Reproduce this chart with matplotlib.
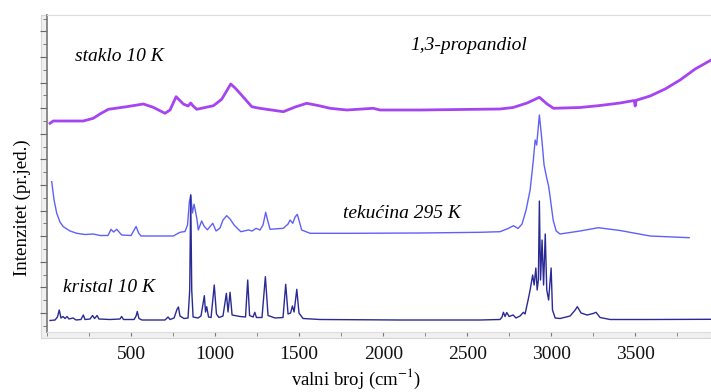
import matplotlib
matplotlib.use("Agg")
import matplotlib.pyplot as plt
from matplotlib.patches import Rectangle
from matplotlib.ticker import MultipleLocator

plt.rcParams['font.family'] = ['Liberation Serif', 'DejaVu Serif']
plt.rcParams['mathtext.fontset'] = 'stix'

# staklo 10 K (glass)
staklo_x = [18, 37, 216, 275, 315, 365, 474, 573, 632, 702, 732, 768, 811, 839, 855, 869,
            891, 990, 1039, 1065, 1093, 1119, 1148, 1218, 1255, 1307, 1406, 1476, 1545,
            1612, 1684, 1783, 1941, 1981, 2219, 2457, 2695, 2773, 2856, 2929, 2975, 3013,
            3171, 3290, 3409, 3493, 3499, 3505, 3588, 3677, 3766, 3856, 3951]
staklo_y = [208.7, 211, 211, 213.7, 218, 222.7, 225.3, 228, 224.7, 218.7, 222, 235.3, 228,
            226, 229, 226, 222.7, 226.3, 232.7, 240, 248, 244, 238.7, 225.3, 224, 222.7,
            220.3, 225, 228.7, 226.5, 223.7, 222, 223.7, 222, 222, 222.5, 223, 224.5, 229,
            234.7, 228, 223.7, 224.5, 226.5, 229, 231.5, 226, 231.7, 236, 243, 252, 263, 272]

# tekucina 295 K (liquid)
tek_x = [28, 42, 58, 77, 97, 137, 177, 226, 275, 315, 363, 381, 396, 415, 444, 500, 515, 530,
         545, 559, 751, 791, 821, 836, 847, 855, 865, 875, 891, 900, 920, 934, 954, 986, 1006,
         1029, 1047, 1069, 1089, 1113, 1153, 1198, 1220, 1244, 1267, 1285, 1301, 1315, 1327,
         1406, 1434, 1446, 1462, 1476, 1489, 1502, 1515, 1565, 1803, 2219, 2576, 2695, 2743,
         2775, 2802, 2826, 2850, 2874, 2892, 2904, 2913, 2929, 2944, 2957, 2973, 2984, 2993,
         3011, 3029, 3052, 3171, 3280, 3409, 3588, 3820]
tek_y = [150.3, 132, 118.7, 110, 105.3, 101, 98.7, 97.5, 98, 96.5, 96.5, 102.7, 100, 102.7,
         97, 96.5, 101, 105.5, 99, 96, 96, 99.7, 100.5, 107, 130.3, 137, 119, 127.7, 114, 102,
         111, 106, 102.2, 108.7, 101, 104, 112, 116.3, 113, 107, 100.3, 102, 101, 103.7, 102,
         107, 119.7, 110, 102.7, 103.7, 108, 112, 108.7, 115, 117.7, 110, 102, 98.7, 98.7, 99,
         99.7, 100.3, 103.5, 106.3, 103.5, 108, 122, 142, 170, 192, 187, 217, 192, 167, 153.7,
         146, 135, 112, 101, 98, 101, 104.3, 101.5, 96, 94.3]

# kristal 10 K (crystal)
kri_x = [18, 48, 62, 73, 83, 95, 107, 119, 131, 155, 173, 202, 216, 226, 256, 271, 283, 298,
         309, 375, 434, 444, 455, 518, 530, 537, 547, 565, 702, 720, 732, 756, 774, 782, 791,
         815, 839, 849, 855, 861, 869, 898, 916, 936, 943, 950, 961, 976, 995, 1008, 1023,
         1047, 1067, 1077, 1089, 1101, 1148, 1181, 1194, 1205, 1226, 1236, 1246, 1279, 1299,
         1315, 1357, 1404, 1420, 1434, 1449, 1460, 1470, 1486, 1499, 1523, 1624, 2100, 2576,
         2695, 2707, 2715, 2725, 2735, 2749, 2773, 2790, 2814, 2834, 2844, 2862, 2874, 2889,
         2898, 2908, 2916, 2923, 2929, 2936, 2945, 2954, 2964, 2973, 2984, 2999, 3007, 3023,
         3052, 3112, 3142, 3155, 3177, 3213, 3249, 3266, 3290, 3350, 3588, 3951]
kri_y = [11.5, 12, 15, 22, 14, 15.5, 13.5, 15.5, 13, 14, 12, 12.5, 17, 12.5, 13, 16.5, 13.5,
         16.5, 13, 12.5, 13, 15.5, 12.5, 12.5, 16, 20.5, 13.5, 12, 12, 15, 12.5, 14, 23, 25,
         16, 13.5, 14, 42, 137, 42, 15, 14, 16, 36.3, 20, 25.3, 15, 14.5, 47, 18, 14.5, 16,
         38.7, 20, 39.7, 17, 15.5, 15, 52, 16.5, 15, 19.7, 14.5, 14.5, 55.3, 16.5, 14, 14.5,
         47.7, 18, 19, 26, 20, 42.7, 19, 13.5, 12.5, 12, 12, 12.5, 15, 19.7, 15.5, 19.5, 15.5,
         17, 14, 16, 19.7, 18, 32, 42, 57, 47, 64, 42, 52, 131, 52, 92, 47, 98, 42, 32, 64,
         22, 14, 13.5, 16, 22, 25.3, 19, 17, 18.5, 19.7, 14.5, 12.5, 12.5, 12.7]

x_ticks = [500, 1000, 1500, 2000, 2500, 3000, 3500]

fig = plt.figure(figsize=(7.11, 3.92), dpi=100)
W, H = 711.0, 392.0

# light grey frame behind the plot
frame = Rectangle((41 / W, 1 - 338 / H), 670 / W, 323 / H, transform=fig.transFigure,
                  facecolor='#f0f0f0', edgecolor='#d6d6d6', linewidth=0.8, zorder=-10)
fig.patches.append(frame)

ax = fig.add_axes([47 / W, 1 - 332 / H, 664 / W, 317 / H])
ax.set_zorder(5)
ax.set_facecolor('white')

ax.plot(staklo_x, staklo_y, color='#9b30f0', lw=2.0, alpha=0.9)
ax.plot(tek_x, tek_y, color='#6060f8', lw=1.0)
ax.plot(kri_x, kri_y, color='#2a2a95', lw=1.0)

ax.set_xlim(0, 3950)
ax.set_ylim(0, 317)

ax.set_xticks(x_ticks)
ax.set_xticklabels([str(v) for v in x_ticks])
ax.xaxis.set_minor_locator(MultipleLocator(250))
ax.yaxis.set_major_locator(MultipleLocator(25.6, offset=19.0))
ax.yaxis.set_minor_locator(MultipleLocator(12.8, offset=6.2))
ax.set_yticklabels([])

ax.tick_params(axis='x', which='both', direction='out', length=3, color='#777777',
               labelsize=14, pad=7, labelcolor='#111111')
ax.tick_params(axis='y', which='major', direction='out', length=5, color='#666666')
ax.tick_params(axis='y', which='minor', direction='out', length=3, color='#666666')

ax.spines['right'].set_visible(False)
ax.spines['top'].set_color('#dddddd')
ax.spines['bottom'].set_color('#dddddd')
ax.spines['left'].set_color('#777777')
ax.spines['left'].set_linewidth(1.2)

# labels on the curves
ax.text(167, 271, 'staklo 10 K', style='italic', fontsize=14, ha='left', va='baseline')
ax.text(2160, 282, '1,3-propandiol', style='italic', fontsize=14, ha='left', va='baseline')
ax.text(1761, 114, 'tekućina 295 K', style='italic', fontsize=14, ha='left', va='baseline')
ax.text(95, 40, 'kristal 10 K', style='italic', fontsize=14, ha='left', va='baseline')

fig.text(22 / W, 1 - 208 / H, 'Intenzitet (pr.jed.)', rotation=90, fontsize=13.7,
         ha='center', va='center')
fig.text(356 / W, 1 - 379 / H, r'valni broj (cm$^{-1}$)', fontsize=13.5,
         ha='center', va='center')

fig.savefig('out.png', dpi=100)
